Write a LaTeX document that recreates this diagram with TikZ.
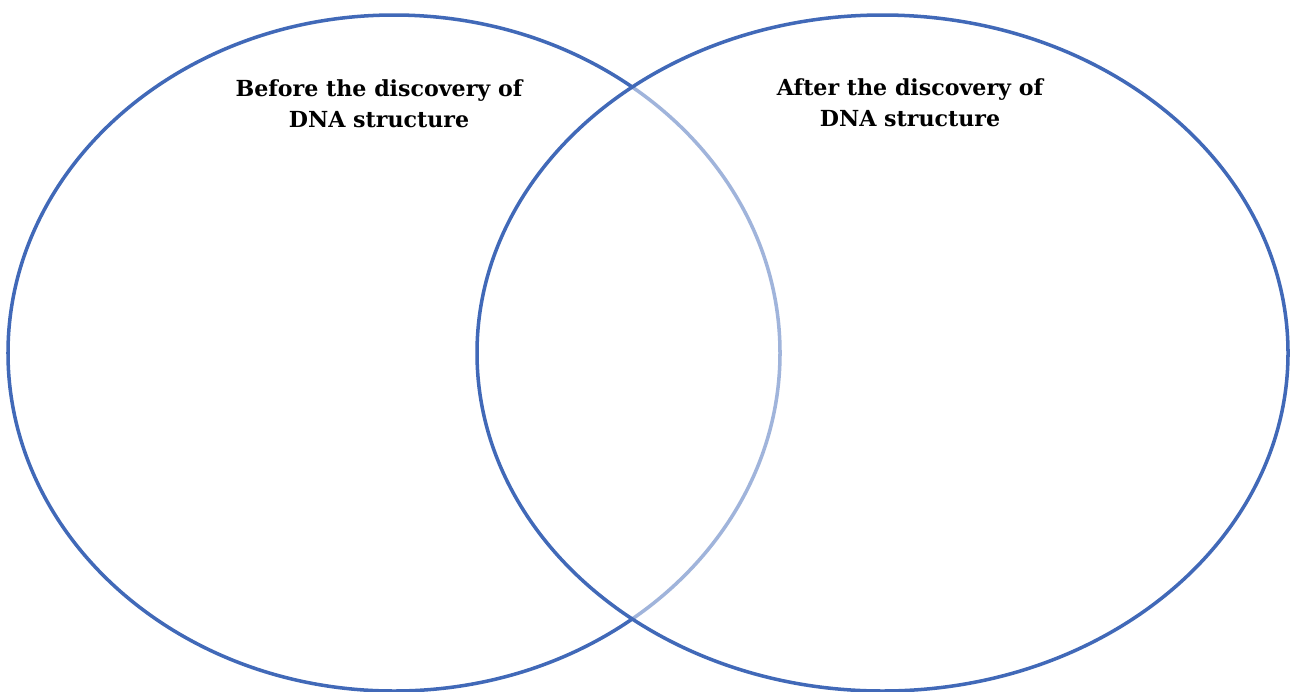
\documentclass[tikz,border=0pt]{standalone}
\usepackage{fontspec}
\setmainfont{DejaVu Serif}
\usepackage{tikz}
\usetikzlibrary{positioning, calc}
\definecolor{setblue}{HTML}{4169B8}

\begin{document}
\begin{tikzpicture}[x=0.02cm, y=-0.02cm]
  % Canvas
  \useasboundingbox (0,0) rectangle (1290,691);
  \fill[white] (0,0) rectangle (1290,691);

  % Centres of the two sets
  \coordinate (L) at (394,353);
  \coordinate (R) at (882.5,353);

  % Left set, then right set drawn over it with a see-through fill
  \draw[setblue, line width=2pt] (L) ellipse [x radius=386, y radius=338];
  \fill[white, opacity=0.5] (R) ellipse [x radius=405.5, y radius=338];
  \draw[setblue, line width=2pt] (R) ellipse [x radius=405.5, y radius=338];

  % Labels
  \node[font=\bfseries\fontsize{12.6}{17.8}\selectfont, align=center] (before) at (379,103.5)
    {Before the discovery of\\DNA structure};
  \node[font=\bfseries\fontsize{12.6}{17.8}\selectfont, align=center] (after) at (910,102.5)
    {After the discovery of\\DNA structure};
\end{tikzpicture}
\end{document}
